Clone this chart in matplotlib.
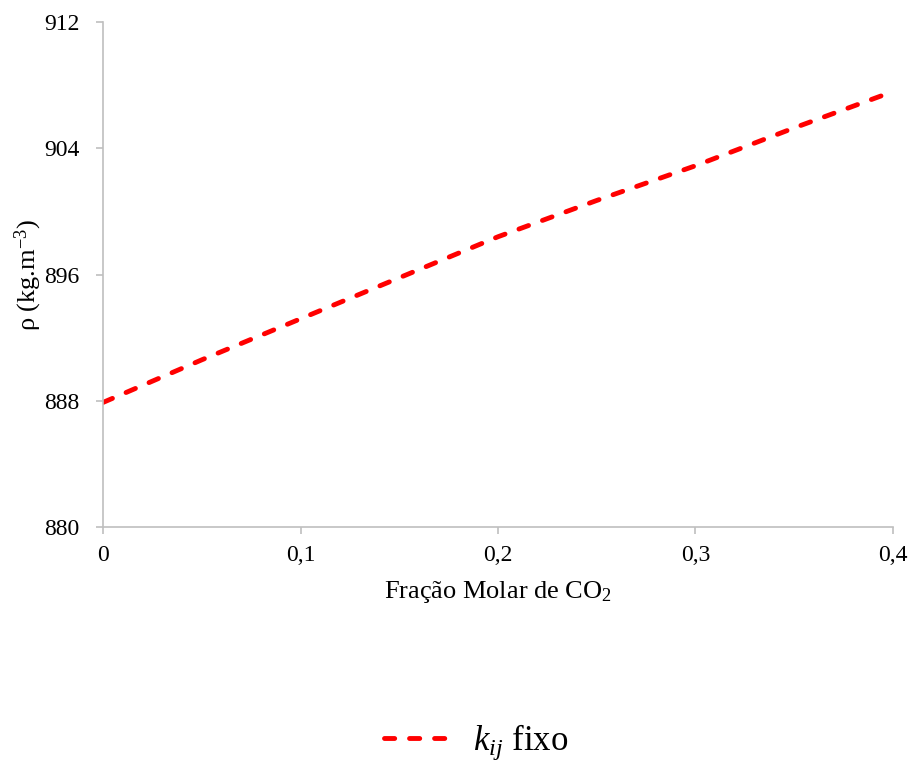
import matplotlib
matplotlib.use("Agg")
import matplotlib.pyplot as plt

plt.rcParams['font.family'] = ['Liberation Serif', 'DejaVu Serif']
plt.rcParams['mathtext.fontset'] = 'custom'
plt.rcParams['mathtext.rm'] = 'Liberation Serif'
plt.rcParams['mathtext.it'] = 'Liberation Serif:italic'

# density vs CO2 molar fraction (fixed kij)
x_frac = [0.0, 0.05, 0.1, 0.15, 0.2, 0.25, 0.3, 0.35, 0.4]
rho = [887.9, 890.6, 893.2, 895.8, 898.4, 900.7, 902.9, 905.3, 907.6]

x_ticks = [0.0, 0.1, 0.2, 0.3, 0.4]
x_labels = ['0', '0,1', '0,2', '0,3', '0,4']
y_ticks = [880, 888, 896, 904, 912]

fig = plt.figure(figsize=(9.12, 7.65), dpi=100)
ax = fig.add_axes([0.113, 0.311, 0.866, 0.660])

line, = ax.plot(x_frac, rho, color='#ff0000', lw=3.5, dashes=(2.1, 3.05),
                dash_capstyle='round', label=r'$k_{ij}$ fixo')

ax.set_xlim(0, 0.4)
ax.set_ylim(880, 912)
ax.set_xticks(x_ticks)
ax.set_xticklabels(x_labels)
ax.set_yticks(y_ticks)

for s in ['top', 'right']:
    ax.spines[s].set_visible(False)
for s in ['left', 'bottom']:
    ax.spines[s].set_color('#bfbfbf')
    ax.spines[s].set_linewidth(1.2)
ax.tick_params(colors='#bfbfbf', labelcolor='black', labelsize=17,
               length=5, width=1.2, direction='out')
ax.tick_params(axis='y', pad=12)
ax.tick_params(axis='x', pad=8)

ax.set_xlabel(r'Fração Molar de CO$\mathregular{_2}$', fontsize=19, labelpad=9)
ax.set_ylabel(r'ρ (kg.m$^{\mathregular{-3}}$)', fontsize=19, labelpad=0)

fig.legend(handles=[line], loc='center', bbox_to_anchor=(0.522, 0.03),
           frameon=False, fontsize=25, handlelength=2.0, handletextpad=0.55)

fig.savefig('out.png', dpi=100)
